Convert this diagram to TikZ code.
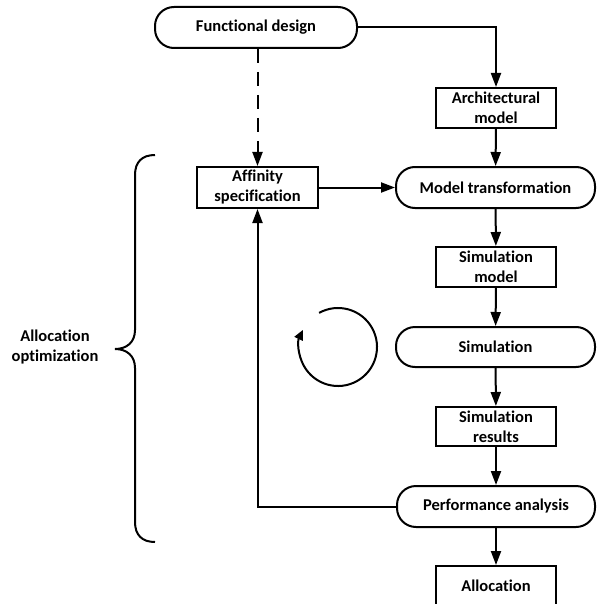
\documentclass[tikz,border=0pt]{standalone}
\usepackage{fontspec}
\setmainfont{Carlito}[Ligatures=NoCommon]
\usetikzlibrary{arrows.meta,positioning,calc}
\begin{document}
\begin{tikzpicture}[x=1pt,y=-1pt,
  every node/.style={font=\bfseries\fontsize{16.5}{20}\selectfont, align=center, inner sep=0pt},
  boxn/.style={draw, line width=2pt, minimum width=120pt, minimum height=40pt},
  term/.style={draw, line width=2pt, rounded corners=19pt, minimum height=41pt},
  conn/.style={line width=2pt, -{Triangle[length=14pt,width=10pt]}},
  plainline/.style={line width=2pt}]
\useasboundingbox (0,0) rectangle (596,604);
\clip (0,0) rectangle (596,604);
\node[term, minimum width=202pt] (fd) at (256,27.5) {Functional design};
\node[boxn] (arch) at (496,108) {Architectural\\model};
\node[boxn, minimum width=121pt, minimum height=41pt] (aff) at (257.5,187.5) {Affinity\\specification};
\node[term, minimum width=199pt] (mt) at (495.5,187.5) {Model transformation};
\node[boxn] (sm) at (496,267) {Simulation\\model};
\node[term, minimum width=199pt, minimum height=40pt] (sim) at (495.5,347) {Simulation};
\node[boxn, minimum height=39pt] (sr) at (496,426.5) {Simulation\\results};
\node[term, minimum width=198pt] (pa) at (496,506.5) {Performance analysis};
\node[boxn] (alloc) at (496,586) {Allocation};
\node (lbl) at (55,347) {Allocation\\optimization};
% connectors
\draw[conn] (fd.east) -| (arch.north);
\draw[conn, dash pattern=on 14pt off 9pt] (aff.north |- fd.south) -- (aff.north);
\draw[conn] (arch) -- (mt);
\draw[conn] (aff) -- (mt);
\draw[conn] (mt) -- (sm);
\draw[conn] (sm) -- (sim);
\draw[conn] (sim) -- (sr);
\draw[conn] (sr) -- (pa);
\draw[conn] (pa) -- (alloc);
\draw[conn] (pa.west) -| (aff.south);
% cycle
\coordinate (cyc) at (338,347);
\draw[line width=2pt, -{Triangle[length=10pt,width=9pt]}] ($(cyc)+(241:39)$) arc[start angle=241, end angle=566, radius=39];
% brace
\coordinate (btop) at (155,155);
\coordinate (btip) at (115,349);
\coordinate (bbot) at (155,542);
\draw[plainline] (btop) .. controls (142,155) and (135,162) .. (135,175)
  -- (135,330) .. controls (135,342) and (127,349) .. (btip)
  .. controls (127,349) and (135,356) .. (135,368)
  -- (135,522) .. controls (135,535) and (142,542) .. (bbot);
\end{tikzpicture}
\end{document}
